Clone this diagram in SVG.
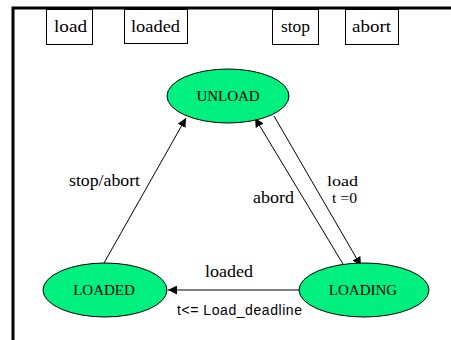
<svg xmlns="http://www.w3.org/2000/svg" width="451" height="340" viewBox="0 0 451 340">
<style>
.box{fill:#fff;stroke:#000;stroke-width:1}
.state{fill:#00f080;stroke:#000;stroke-width:1}
.t{font-family:"Liberation Serif","Times New Roman",serif;font-size:17px;fill:#000}
.st{font-size:15px}
.s{font-family:"Liberation Serif","Times New Roman",serif;font-size:15px;fill:#000;text-anchor:middle}
.e{font-family:"Liberation Sans",Arial,sans-serif;font-size:14px;fill:#000}
.c{stroke:#000;stroke-width:1;fill:none;marker-end:url(#ah)}
</style>
<defs>
<marker id="ah" viewBox="0 0 10 10" refX="10" refY="5" markerWidth="9" markerHeight="9" markerUnits="userSpaceOnUse" orient="auto">
<path d="M0,0 L10,5 L0,10 z" fill="#000"/>
</marker>
</defs>
<rect width="451" height="340" fill="#fff"/>
<path d="M13,340 V8 H451" stroke="#000" stroke-width="3" fill="none"/>
<g id="btn-load"><rect class="box" x="46.5" y="9.5" width="46" height="35"/><text class="t" x="54" y="32" textLength="33" lengthAdjust="spacingAndGlyphs">load</text></g>
<g id="btn-loaded"><rect class="box" x="124.5" y="9.5" width="63" height="34"/><text class="t" x="131" y="32" textLength="49" lengthAdjust="spacingAndGlyphs">loaded</text></g>
<g id="btn-stop"><rect class="box" x="272.5" y="9.5" width="46" height="35"/><text class="t" x="281" y="32" textLength="29" lengthAdjust="spacingAndGlyphs">stop</text></g>
<g id="btn-abort"><rect class="box" x="345.5" y="9.5" width="53" height="35"/><text class="t" x="352" y="32" textLength="39" lengthAdjust="spacingAndGlyphs">abort</text></g>
<g id="connectors">
<line class="c" x1="104" y1="263" x2="186" y2="118"/>
<line class="c" x1="343" y1="264" x2="255" y2="118"/>
<line class="c" x1="274" y1="116" x2="361" y2="266"/>
<line class="c" x1="299" y1="290" x2="168" y2="290"/>
<text class="t" x="69" y="186" textLength="71" lengthAdjust="spacingAndGlyphs">stop/abort</text>
<text class="t" x="253" y="203" textLength="41" lengthAdjust="spacingAndGlyphs">abord</text>
<text class="t st" x="327" y="186" textLength="31" lengthAdjust="spacingAndGlyphs">load</text>
<text class="t st" x="332" y="203" textLength="25" lengthAdjust="spacingAndGlyphs">t =0</text>
<text class="t" x="205" y="277" textLength="48" lengthAdjust="spacingAndGlyphs">loaded</text>
<text class="e" x="177" y="315" textLength="125">t&lt;= Load_deadline</text>
</g>
<g id="UNLOAD"><ellipse class="state" cx="228" cy="96" rx="61" ry="27"/><text class="s" x="228" y="101" textLength="63">UNLOAD</text></g>
<g id="LOADED"><ellipse class="state" cx="105" cy="290" rx="62" ry="27"/><text class="s" x="104" y="295">LOADED</text></g>
<g id="LOADING"><ellipse class="state" cx="364" cy="290" rx="65" ry="27"/><text class="s" x="363" y="295">LOADING</text></g>
</svg>
